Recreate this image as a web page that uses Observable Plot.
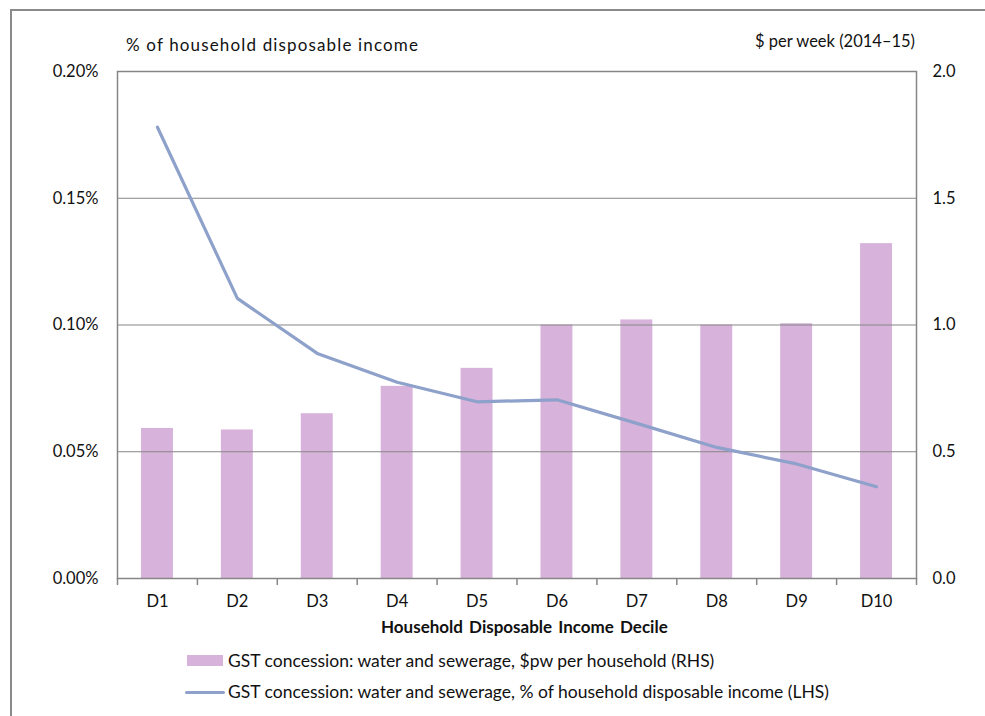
<!DOCTYPE html>
<html><head><meta charset="utf-8">
<script src="https://cdn.jsdelivr.net/npm/d3@7"></script>
<script src="https://cdn.jsdelivr.net/npm/@observablehq/plot@0.6"></script>
<style>
body{margin:0;background:#fff;font-family:Lato,sans-serif;}
#wrap{position:relative;width:985px;height:716px;overflow:hidden;background:#fff;}
#frame{position:absolute;left:10px;top:9px;width:990px;height:720px;border-left:2px solid #8a8a8a;border-top:2px solid #8a8a8a;}
#chart{position:absolute;left:0;top:0;}
.t{position:absolute;font-size:16.5px;line-height:20px;color:#111;white-space:nowrap;}
.lg{font-size:17.5px;}
.sw{position:absolute;}
</style></head><body>
<div id="wrap">
<div id="frame"></div>
<div id="chart"></div>
<div class="t" style="left:126px;top:35px;font-size:17px;letter-spacing:1.15px;">% of household disposable income</div>
<div class="t" style="right:70px;top:31px;">$ per week (2014–15)</div>
<div class="t" style="left:381px;top:617px;font-size:17px;font-weight:bold;word-spacing:2px;">Household Disposable Income Decile</div>
<div class="sw" style="left:187px;top:655px;width:36px;height:11px;background:#D7B2DA;"></div>
<div class="t lg" id="lg1" style="left:228px;top:651px;"></div>
<div class="sw" style="left:185px;top:691px;width:40px;height:3px;border-radius:2px;background:#8EA1CA;"></div>
<div class="t lg" id="lg2" style="left:228px;top:682px;"></div>
</div>
<script>
const deciles = ["D1","D2","D3","D4","D5","D6","D7","D8","D9","D10"];
const dollarsPerWeek = [0.592,0.586,0.650,0.758,0.829,1.000,1.020,1.000,1.005,1.321];
const pctOfIncome = [0.1780,0.1105,0.0888,0.0774,0.0697,0.0705,0.0612,0.0517,0.0452,0.0362];
const leftTicks = [0,0.05,0.10,0.15,0.20];
const rhsPerLhs = 10; // 2.0 $pw on the right axis lines up with 0.20% on the left
const seriesBar = "GST concession: water and sewerage, $pw per household (RHS)";
const seriesLine = "GST concession: water and sewerage, % of household disposable income (LHS)";

document.getElementById("lg1").textContent = seriesBar;
document.getElementById("lg2").textContent = seriesLine;

const rows = deciles.map((d,i)=>({decile:d, dollars:dollarsPerWeek[i], pct:pctOfIncome[i]}));
const gray = "#868686";

const chart = Plot.plot({
  width: 985,
  height: 645,
  marginLeft: 117,
  marginRight: 69,
  marginTop: 71,
  marginBottom: 67,
  style: {fontFamily: "Lato, sans-serif", fontSize: "16.5px", color: "#111", background: "transparent"},
  x: {type: "band", domain: deciles, paddingInner: 0.6, paddingOuter: 0.3, round: false, axis: null},
  y: {domain: [0, 0.2], axis: null},
  marks: [
    Plot.barY(rows, {x: "decile", y: d => d.dollars / rhsPerLhs, fill: "#D7B2DA"}),
    Plot.gridY(leftTicks, {stroke: gray, strokeOpacity: 1, strokeWidth: 1.2}),
    Plot.frame({stroke: gray, strokeWidth: 1.5}),
    Plot.lineY(rows, {x: "decile", y: "pct", stroke: "#8EA1CA", strokeWidth: 3.2}),
    Plot.axisY(leftTicks, {anchor: "left", tickSize: 0, tickPadding: 19, tickFormat: d => d.toFixed(2) + "%", label: null}),
    Plot.axisY(leftTicks, {anchor: "right", tickSize: 0, tickPadding: 16, tickFormat: d => (d * rhsPerLhs).toFixed(1), label: null}),
    Plot.axisX({tickSize: 0, tickPadding: 17, label: null}),
    Plot.axisX({text: null, tickSize: 7, dx: -39.95, stroke: gray, strokeWidth: 1.5, label: null}),
    Plot.axisX(["D10"], {text: null, tickSize: 7, dx: 39.95, stroke: gray, strokeWidth: 1.5, label: null})
  ]
});
document.getElementById("chart").appendChild(chart);
</script>
</body></html>
